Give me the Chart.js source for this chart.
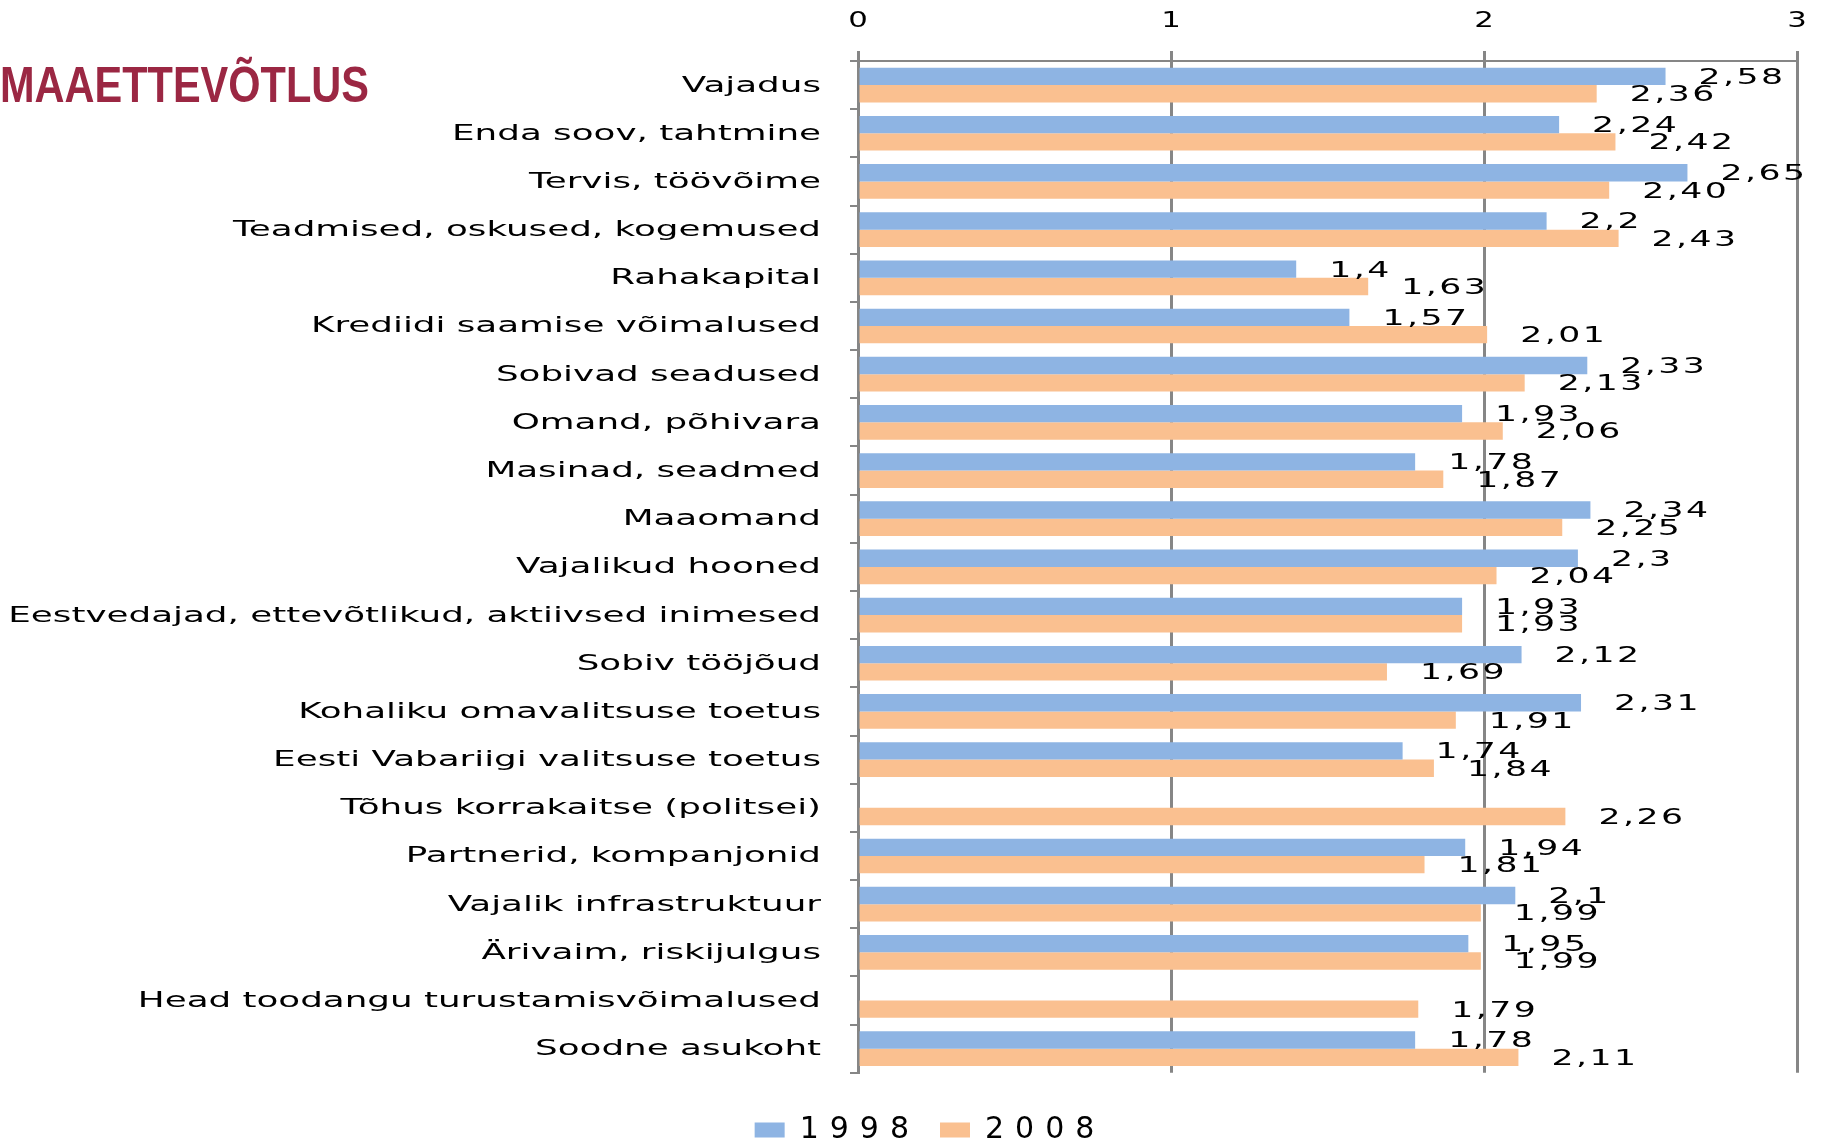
<!DOCTYPE html>
<html>
<head>
<meta charset="utf-8">
<title>Maaettevõtlus</title>
<script src="https://cdn.jsdelivr.net/npm/chart.js@4.4.0/dist/chart.umd.min.js"></script>
<style>
  html, body { margin: 0; padding: 0; background: #fff; }
  #wrap { position: relative; width: 1826px; height: 1145px; }
  #title {
    position: absolute; left: 0; top: 60px;
    font: bold 50px "Liberation Sans", Arial, sans-serif; line-height: 1;
    color: #9b2743; white-space: nowrap;
    transform: scaleX(0.83); transform-origin: left top;
  }
</style>
</head>
<body>
<div id="wrap">
  <canvas id="chart" width="1826" height="1145"></canvas>
  <div id="title">MAAETTEVÕTLUS</div>
</div>
<script>
// categories, top to bottom
const categories = [
  "Vajadus",
  "Enda soov, tahtmine",
  "Tervis, töövõime",
  "Teadmised, oskused, kogemused",
  "Rahakapital",
  "Krediidi saamise võimalused",
  "Sobivad seadused",
  "Omand, põhivara",
  "Masinad, seadmed",
  "Maaomand",
  "Vajalikud hooned",
  "Eestvedajad, ettevõtlikud, aktiivsed inimesed",
  "Sobiv tööjõud",
  "Kohaliku omavalitsuse toetus",
  "Eesti Vabariigi valitsuse toetus",
  "Tõhus korrakaitse (politsei)",
  "Partnerid, kompanjonid",
  "Vajalik infrastruktuur",
  "Ärivaim, riskijulgus",
  "Head toodangu turustamisvõimalused",
  "Soodne asukoht"
];

const values1998 = [2.58, 2.24, 2.65, 2.2, 1.4, 1.57, 2.33, 1.93, 1.78, 2.34, 2.3,
  1.93, 2.12, 2.31, 1.74, null, 1.94, 2.1, 1.95, null, 1.78];
const values2008 = [2.36, 2.42, 2.40, 2.43, 1.63, 2.01, 2.13, 2.06, 1.87, 2.25, 2.04,
  1.93, 1.69, 1.91, 1.84, 2.26, 1.81, 1.99, 1.99, 1.79, 2.11];

// value labels as printed on the chart
const text1998 = ["2,58", "2,24", "2,65", "2,2", "1,4", "1,57", "2,33", "1,93", "1,78", "2,34", "2,3",
  "1,93", "2,12", "2,31", "1,74", "", "1,94", "2,1", "1,95", "", "1,78"];
const text2008 = ["2,36", "2,42", "2,40", "2,43", "1,63", "2,01", "2,13", "2,06", "1,87", "2,25", "2,04",
  "1,93", "1,69", "1,91", "1,84", "2,26", "1,81", "1,99", "1,99", "1,79", "2,11"];

const xTicks = [0, 1, 2, 3];

const FONT = '"DejaVu Sans", sans-serif';
const GRID = "#868686";

// the original export has wide, stretched lettering
function wideText(ctx, text, x, y, align, size, stretch, spacing) {
  ctx.save();
  ctx.font = size + "px " + FONT;
  ctx.letterSpacing = spacing + "px";
  ctx.fillStyle = "#000";
  ctx.textAlign = align;
  ctx.textBaseline = "middle";
  ctx.translate(x, y);
  ctx.scale(stretch, 1);
  ctx.fillText(text, 0, 0);
  ctx.restore();
}

// legend spacing
const spacing = {
  id: "spacing",
  beforeLayout(chart) { chart.ctx.letterSpacing = "11px"; },
  beforeDraw(chart) { chart.ctx.letterSpacing = "11px"; }
};

// axis labels, placed by the scales
const axisText = {
  id: "axisText",
  afterDraw(chart) {
    const ctx = chart.ctx;
    const ys = chart.scales.y, xs = chart.scales.x;
    ys.ticks.forEach((t, i) => {
      wideText(ctx, ys.getLabelForValue(t.value), ys.right - 37, ys.getPixelForTick(i) + 1, "right", 21, 1.7, 0);
    });
    xs.ticks.forEach((t, i) => {
      wideText(ctx, String(t.value), xs.getPixelForTick(i), 21, "center", 22, 1.4, 0);
    });
  }
};

// value labels to the right of each bar
const valueLabels = {
  id: "valueLabels",
  afterDatasetsDraw(chart) {
    const texts = [text1998, text2008];
    chart.data.datasets.forEach((ds, i) => {
      chart.getDatasetMeta(i).data.forEach((bar, j) => {
        const t = texts[i][j];
        if (!t) return;
        wideText(chart.ctx, t, bar.x + 33, bar.y + 2, "left", 21, 1.65, 1.5);
      });
    });
  }
};

const ctx = document.getElementById("chart").getContext("2d");
new Chart(ctx, {
  type: "bar",
  data: {
    labels: categories,
    datasets: [
      { label: "1998", data: values1998, backgroundColor: "#8eb4e3" },
      { label: "2008", data: values2008, backgroundColor: "#fac090" }
    ]
  },
  options: {
    indexAxis: "y",
    responsive: false,
    animation: false,
    categoryPercentage: 0.72,
    barPercentage: 1,
    layout: { padding: { top: 0, right: 29, bottom: -10, left: 63 } },
    scales: {
      x: {
        position: "top",
        min: 0,
        max: 3,
        afterBuildTicks(scale) { scale.ticks = xTicks.map(v => ({ value: v })); },
        ticks: { display: false },
        grid: { color: GRID, lineWidth: 3, tickLength: 10 },
        border: { color: GRID, width: 2 },
        afterFit(scale) { scale.height = 61; }
      },
      y: {
        ticks: { display: false, autoSkip: false },
        grid: { drawOnChartArea: false, offset: true, color: GRID, lineWidth: 2, tickLength: 8 },
        border: { color: GRID, width: 3 },
        afterFit(scale) { scale.width = 795; }
      }
    },
    plugins: {
      legend: {
        position: "bottom",
        title: { display: true, text: "", font: { size: 1 }, padding: { top: 21, bottom: 0 } },
        labels: { boxWidth: 30, boxHeight: 15, color: "#000", font: { family: FONT, size: 30 }, padding: 20 }
      },
      tooltip: { enabled: false }
    }
  },
  plugins: [spacing, axisText, valueLabels]
});
</script>
</body>
</html>
